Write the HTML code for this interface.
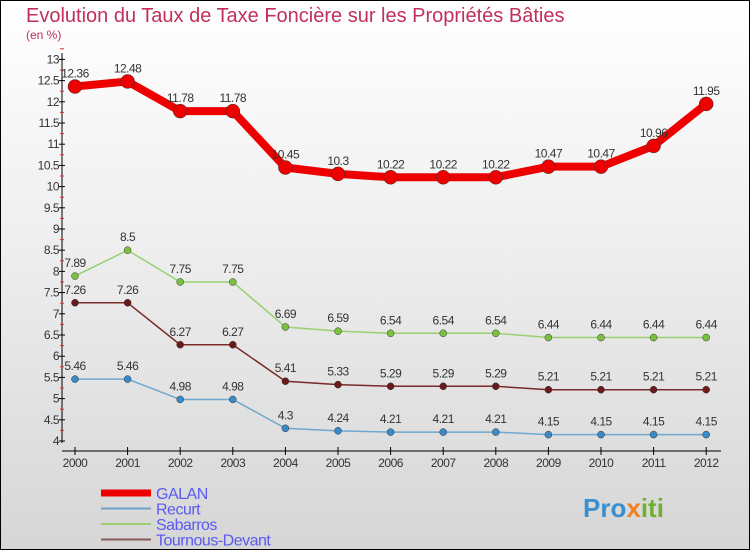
<!DOCTYPE html>
<html><head><meta charset="utf-8"><style>
body{margin:0}
#c{position:relative;width:748px;height:548px;border:1px solid #000;background:linear-gradient(#ffffff,#f0f0f0 40%,#d6d6d6);font-family:"Liberation Sans",sans-serif;overflow:hidden}
</style></head><body>
<div id="c">
<svg id="s" width="748" height="548" xmlns="http://www.w3.org/2000/svg">
<text x="25" y="21" font-size="20" fill="#c0305a">Evolution du Taux de Taxe Foncière sur les Propriétés Bâties</text>
<text x="25" y="38" font-size="12" fill="#c0305a">(en %)</text>
<g id="axes"></g><g id="series"></g><g id="legend"></g>
<text x="582" y="516" font-size="26" font-weight="bold" fill="#3a8fd0">Pro<tspan fill="#f08020">x</tspan><tspan fill="#70b030">iti</tspan></text>
</svg>
</div>
<script>
const years=[2000,2001,2002,2003,2004,2005,2006,2007,2008,2009,2010,2011,2012];
const galan=[12.36,12.48,11.78,11.78,10.45,10.3,10.22,10.22,10.22,10.47,10.47,10.96,11.95];
const recurt=[5.46,5.46,4.98,4.98,4.3,4.24,4.21,4.21,4.21,4.15,4.15,4.15,4.15];
const sabarros=[7.89,8.5,7.75,7.75,6.69,6.59,6.54,6.54,6.54,6.44,6.44,6.44,6.44];
const tournous=[7.26,7.26,6.27,6.27,5.41,5.33,5.29,5.29,5.29,5.21,5.21,5.21,5.21];
const yTicks=[4,4.5,5,5.5,6,6.5,7,7.5,8,8.5,9,9.5,10,10.5,11,11.5,12,12.5,13];
const NS="http://www.w3.org/2000/svg";
const X=i=>74+i*52.6, Y=v=>440-(v-4)*42.4;
function mk(p,t,a){const e=document.createElementNS(NS,t);for(const k in a)e.setAttribute(k,a[k]);p.appendChild(e);return e;}
const ax=document.getElementById('axes');
let l=mk(ax,'line',{x1:61,y1:52,x2:61,y2:442,stroke:'#000'});


l=mk(ax,'line',{x1:61,y1:450,x2:720,y2:450,stroke:'#000'});


yTicks.forEach(v=>{
 mk(ax,'line',{x1:58,x2:64,y1:Y(v),y2:Y(v),stroke:'#000'});
 mk(ax,'line',{x1:59,x2:63,y1:Y(v+0.25),y2:Y(v+0.25),stroke:'#e03030'});
 const t=mk(ax,'text',{x:58,y:Y(v)+4,'font-size':12,'text-anchor':'end',fill:'#333','letter-spacing':'-0.5'});
 t.textContent=v;
 
 
});
years.forEach((y,i)=>{
 mk(ax,'line',{x1:X(i),x2:X(i),y1:446,y2:454,stroke:'#000'});
 const t=mk(ax,'text',{x:X(i),y:466,'font-size':12,'text-anchor':'middle',fill:'#333','letter-spacing':'-0.5'});
 t.textContent=y;
 
 
});
const sg=document.getElementById('series');
function series(name,data,color,w,r,dot){
 const g=mk(sg,'g',{});
 
 
 mk(g,'polyline',{points:data.map((v,i)=>X(i)+','+Y(v)).join(' '),fill:'none',stroke:color,'stroke-width':w,'stroke-linejoin':'round'});
 data.forEach((v,i)=>{
  const c=mk(g,'circle',{cx:X(i),cy:Y(v),r:r,fill:dot,stroke:'#333','stroke-width':0.5});
  
  
  const t=mk(g,'text',{x:X(i),y:Y(v)-9,'font-size':12,'text-anchor':'middle',fill:'#333','letter-spacing':'-0.5'});
  t.textContent=v;
  
  
 });
}
series('recurt',recurt,'#6fa8d0',1.5,3.5,'#3a8ac8');
series('tournous',tournous,'#7a2a2a',1.5,3.5,'#6a1a1a');
series('sabarros',sabarros,'#9ad070',1.5,3.5,'#7cc040');
series('galan',galan,'#ee0000',8,7,'#ee0000');
const lg=document.getElementById('legend');
[['GALAN','#ee0000',7],['Recurt','#6fa0c8',2],['Sabarros','#9ad070',2],['Tournous-Devant','#8a5a5a',2]].forEach((d,i)=>{
 const y=492+i*15.5;
 const g=mk(lg,'g',{});
 
 
 mk(g,'line',{x1:100,x2:150,y1:y,y2:y,stroke:d[1],'stroke-width':d[2]});
 const t=mk(g,'text',{x:155,y:y+6,'font-size':16,fill:'#5a5af0','letter-spacing':'-0.5'});
 t.textContent=d[0];
});
</script>
</body></html>
